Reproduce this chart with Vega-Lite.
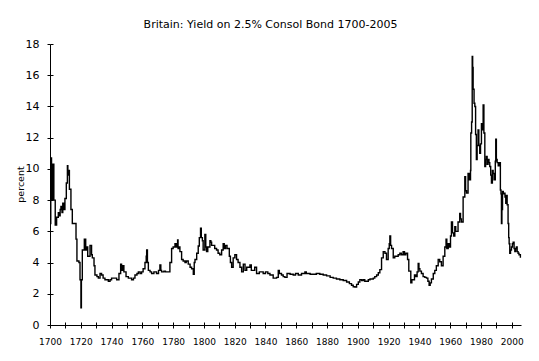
{
  "$schema": "https://vega.github.io/schema/vega-lite/v6.json",
  "width": 471,
  "height": 281,
  "autosize": {"type": "none"},
  "padding": {"left": 50, "top": 44, "right": 18, "bottom": 36},
  "background": "white",
  "title": {
    "text": "Britain: Yield on 2.5% Consol Bond 1700-2005",
    "font": "DejaVu Sans",
    "fontSize": 11,
    "fontWeight": "normal",
    "color": "#000000",
    "anchor": "middle",
    "baseline": "alphabetic",
    "offset": 17,
    "dx": -15,
    "dy": 18
  },
  "config": {
    "view": {"stroke": null},
    "axis": {"grid": false, "domainColor": "#000000", "tickColor": "#000000", "labelColor": "#000000", "titleColor": "#000000", "labelFont": "DejaVu Sans", "titleFont": "DejaVu Sans", "domainWidth": 1, "tickWidth": 1}
  },
  "data": {
    "values": [
      {"year": 1700.0, "yield": 6.5}, {"year": 1700.5, "yield": 10.7}, {"year": 1701.0, "yield": 8.0}, {"year": 1701.8, "yield": 10.3},
      {"year": 1702.5, "yield": 8.0}, {"year": 1703.4, "yield": 6.4}, {"year": 1704.3, "yield": 6.9}, {"year": 1705.4, "yield": 7.2},
      {"year": 1706.3, "yield": 7.0}, {"year": 1706.6, "yield": 7.4}, {"year": 1707.1, "yield": 7.6}, {"year": 1707.8, "yield": 7.2},
      {"year": 1708.3, "yield": 7.8}, {"year": 1708.8, "yield": 7.4}, {"year": 1709.7, "yield": 8.1}, {"year": 1710.6, "yield": 9.1},
      {"year": 1711.3, "yield": 10.2}, {"year": 1711.6, "yield": 9.6}, {"year": 1712.0, "yield": 9.9}, {"year": 1712.6, "yield": 8.7},
      {"year": 1713.6, "yield": 7.4}, {"year": 1714.5, "yield": 6.5}, {"year": 1716.2, "yield": 6.5}, {"year": 1716.9, "yield": 5.5},
      {"year": 1717.5, "yield": 4.1}, {"year": 1718.8, "yield": 4.0}, {"year": 1719.5, "yield": 2.9}, {"year": 1720.1, "yield": 1.1},
      {"year": 1720.4, "yield": 2.9}, {"year": 1721.0, "yield": 4.8}, {"year": 1722.3, "yield": 5.5}, {"year": 1723.2, "yield": 4.8},
      {"year": 1723.8, "yield": 5.0}, {"year": 1724.5, "yield": 4.4}, {"year": 1726.0, "yield": 5.1}, {"year": 1727.0, "yield": 4.5},
      {"year": 1727.5, "yield": 4.3}, {"year": 1728.6, "yield": 3.8}, {"year": 1729.2, "yield": 3.2}, {"year": 1730.5, "yield": 3.1},
      {"year": 1731.4, "yield": 3.0}, {"year": 1732.5, "yield": 3.3}, {"year": 1733.5, "yield": 3.2}, {"year": 1734.5, "yield": 3.0},
      {"year": 1735.7, "yield": 2.9}, {"year": 1737.9, "yield": 2.8}, {"year": 1739.0, "yield": 2.9}, {"year": 1740.0, "yield": 3.0},
      {"year": 1742.0, "yield": 3.0}, {"year": 1743.3, "yield": 2.9}, {"year": 1744.8, "yield": 3.3}, {"year": 1745.9, "yield": 3.9},
      {"year": 1746.5, "yield": 3.5}, {"year": 1747.2, "yield": 3.8}, {"year": 1748.0, "yield": 3.4}, {"year": 1749.4, "yield": 3.1},
      {"year": 1750.9, "yield": 3.0}, {"year": 1753.0, "yield": 2.9}, {"year": 1754.2, "yield": 3.0}, {"year": 1755.2, "yield": 3.2},
      {"year": 1756.5, "yield": 3.3}, {"year": 1757.4, "yield": 3.4}, {"year": 1758.5, "yield": 3.3}, {"year": 1759.5, "yield": 3.4},
      {"year": 1760.5, "yield": 3.6}, {"year": 1761.7, "yield": 4.0}, {"year": 1762.5, "yield": 4.4}, {"year": 1762.8, "yield": 4.8},
      {"year": 1763.3, "yield": 4.0}, {"year": 1763.9, "yield": 3.5}, {"year": 1765.0, "yield": 3.4}, {"year": 1766.0, "yield": 3.3},
      {"year": 1767.5, "yield": 3.4}, {"year": 1769.2, "yield": 3.3}, {"year": 1770.5, "yield": 3.5}, {"year": 1771.4, "yield": 3.85},
      {"year": 1772.0, "yield": 3.5}, {"year": 1772.5, "yield": 3.4}, {"year": 1774.0, "yield": 3.45}, {"year": 1775.0, "yield": 3.4},
      {"year": 1776.8, "yield": 3.4}, {"year": 1777.9, "yield": 4.0}, {"year": 1779.0, "yield": 4.9}, {"year": 1780.0, "yield": 5.0},
      {"year": 1781.2, "yield": 5.2}, {"year": 1782.0, "yield": 5.0}, {"year": 1782.9, "yield": 5.45}, {"year": 1783.2, "yield": 4.9},
      {"year": 1783.7, "yield": 5.0}, {"year": 1784.4, "yield": 4.7}, {"year": 1785.5, "yield": 4.2}, {"year": 1786.5, "yield": 4.1},
      {"year": 1787.7, "yield": 4.0}, {"year": 1788.5, "yield": 4.1}, {"year": 1789.8, "yield": 3.9}, {"year": 1791.0, "yield": 3.7},
      {"year": 1792.0, "yield": 3.6}, {"year": 1793.1, "yield": 3.25}, {"year": 1793.7, "yield": 4.0}, {"year": 1794.2, "yield": 4.2},
      {"year": 1795.3, "yield": 4.6}, {"year": 1796.3, "yield": 5.06}, {"year": 1797.0, "yield": 5.6}, {"year": 1797.8, "yield": 6.2},
      {"year": 1798.3, "yield": 5.6}, {"year": 1799.0, "yield": 5.4}, {"year": 1799.5, "yield": 4.8}, {"year": 1800.0, "yield": 4.8},
      {"year": 1800.6, "yield": 5.8}, {"year": 1801.2, "yield": 5.0}, {"year": 1801.7, "yield": 4.7}, {"year": 1802.5, "yield": 5.0},
      {"year": 1803.9, "yield": 5.4}, {"year": 1804.5, "yield": 5.3}, {"year": 1805.0, "yield": 5.1}, {"year": 1806.0, "yield": 5.1},
      {"year": 1807.0, "yield": 4.9}, {"year": 1808.2, "yield": 4.8}, {"year": 1809.2, "yield": 4.6}, {"year": 1810.3, "yield": 4.5},
      {"year": 1811.5, "yield": 4.8}, {"year": 1812.5, "yield": 5.2}, {"year": 1813.2, "yield": 4.9}, {"year": 1814.0, "yield": 5.1},
      {"year": 1815.0, "yield": 4.9}, {"year": 1815.7, "yield": 4.9}, {"year": 1816.5, "yield": 4.4}, {"year": 1817.2, "yield": 4.0},
      {"year": 1818.0, "yield": 3.7}, {"year": 1819.0, "yield": 4.3}, {"year": 1820.1, "yield": 4.5}, {"year": 1821.2, "yield": 4.2},
      {"year": 1822.2, "yield": 4.0}, {"year": 1823.4, "yield": 3.7}, {"year": 1824.5, "yield": 3.4}, {"year": 1825.6, "yield": 3.9},
      {"year": 1826.7, "yield": 3.5}, {"year": 1827.8, "yield": 3.7}, {"year": 1829.9, "yield": 3.85}, {"year": 1830.8, "yield": 3.5},
      {"year": 1832.1, "yield": 3.5}, {"year": 1833.0, "yield": 3.7}, {"year": 1834.2, "yield": 3.3}, {"year": 1836.0, "yield": 3.4},
      {"year": 1838.5, "yield": 3.3}, {"year": 1840.0, "yield": 3.4}, {"year": 1841.5, "yield": 3.3}, {"year": 1842.9, "yield": 3.2},
      {"year": 1845.0, "yield": 3.0}, {"year": 1847.2, "yield": 3.05}, {"year": 1848.3, "yield": 3.5}, {"year": 1849.0, "yield": 3.3},
      {"year": 1850.4, "yield": 3.2}, {"year": 1851.5, "yield": 3.1}, {"year": 1852.6, "yield": 3.05}, {"year": 1854.0, "yield": 3.3},
      {"year": 1854.8, "yield": 3.3}, {"year": 1856.0, "yield": 3.25}, {"year": 1858.0, "yield": 3.2}, {"year": 1859.5, "yield": 3.3},
      {"year": 1861.3, "yield": 3.2}, {"year": 1863.4, "yield": 3.3}, {"year": 1865.6, "yield": 3.4}, {"year": 1866.5, "yield": 3.3},
      {"year": 1867.7, "yield": 3.3}, {"year": 1869.0, "yield": 3.25}, {"year": 1871.0, "yield": 3.25}, {"year": 1873.0, "yield": 3.3},
      {"year": 1875.3, "yield": 3.25}, {"year": 1877.5, "yield": 3.2}, {"year": 1879.7, "yield": 3.15}, {"year": 1882.0, "yield": 3.05},
      {"year": 1884.0, "yield": 3.0}, {"year": 1886.1, "yield": 2.95}, {"year": 1888.3, "yield": 2.9}, {"year": 1890.5, "yield": 2.85},
      {"year": 1892.7, "yield": 2.75}, {"year": 1894.5, "yield": 2.65}, {"year": 1895.9, "yield": 2.55}, {"year": 1897.0, "yield": 2.45},
      {"year": 1898.1, "yield": 2.43}, {"year": 1899.2, "yield": 2.6}, {"year": 1900.3, "yield": 2.75}, {"year": 1901.3, "yield": 2.9},
      {"year": 1902.5, "yield": 2.85}, {"year": 1903.5, "yield": 2.9}, {"year": 1904.5, "yield": 2.8}, {"year": 1905.7, "yield": 2.8},
      {"year": 1906.8, "yield": 2.9}, {"year": 1907.9, "yield": 2.95}, {"year": 1910.0, "yield": 3.0}, {"year": 1911.0, "yield": 3.1},
      {"year": 1912.2, "yield": 3.2}, {"year": 1913.3, "yield": 3.35}, {"year": 1914.3, "yield": 3.55}, {"year": 1915.4, "yield": 4.3},
      {"year": 1916.5, "yield": 4.7}, {"year": 1917.6, "yield": 4.6}, {"year": 1918.6, "yield": 4.2}, {"year": 1919.7, "yield": 4.9},
      {"year": 1920.4, "yield": 5.2}, {"year": 1920.8, "yield": 5.7}, {"year": 1921.3, "yield": 5.1}, {"year": 1921.9, "yield": 4.9},
      {"year": 1923.0, "yield": 4.3}, {"year": 1924.0, "yield": 4.4}, {"year": 1925.1, "yield": 4.4}, {"year": 1926.2, "yield": 4.5},
      {"year": 1927.3, "yield": 4.6}, {"year": 1928.3, "yield": 4.5}, {"year": 1929.4, "yield": 4.7}, {"year": 1930.3, "yield": 4.5},
      {"year": 1931.2, "yield": 4.6}, {"year": 1932.3, "yield": 4.2}, {"year": 1933.1, "yield": 3.45}, {"year": 1934.4, "yield": 2.7},
      {"year": 1935.1, "yield": 2.9}, {"year": 1935.9, "yield": 2.9}, {"year": 1936.8, "yield": 3.2}, {"year": 1937.7, "yield": 3.1},
      {"year": 1938.5, "yield": 3.4}, {"year": 1939.2, "yield": 3.95}, {"year": 1939.7, "yield": 3.6}, {"year": 1940.3, "yield": 3.45},
      {"year": 1941.3, "yield": 3.3}, {"year": 1942.4, "yield": 3.1}, {"year": 1943.5, "yield": 3.05}, {"year": 1944.6, "yield": 3.0},
      {"year": 1945.5, "yield": 2.8}, {"year": 1946.3, "yield": 2.55}, {"year": 1947.0, "yield": 2.7}, {"year": 1947.8, "yield": 2.95},
      {"year": 1949.0, "yield": 3.3}, {"year": 1950.0, "yield": 3.5}, {"year": 1951.0, "yield": 3.8}, {"year": 1952.2, "yield": 4.2},
      {"year": 1953.2, "yield": 4.05}, {"year": 1954.3, "yield": 3.8}, {"year": 1955.4, "yield": 4.4}, {"year": 1956.5, "yield": 5.0},
      {"year": 1957.3, "yield": 5.5}, {"year": 1957.8, "yield": 4.9}, {"year": 1958.7, "yield": 5.2}, {"year": 1959.5, "yield": 5.0},
      {"year": 1960.2, "yield": 5.7}, {"year": 1960.8, "yield": 6.6}, {"year": 1961.5, "yield": 5.9}, {"year": 1962.3, "yield": 5.7},
      {"year": 1963.0, "yield": 6.3}, {"year": 1963.6, "yield": 6.0}, {"year": 1965.1, "yield": 6.6}, {"year": 1966.2, "yield": 7.15},
      {"year": 1966.7, "yield": 6.8}, {"year": 1967.3, "yield": 6.6}, {"year": 1968.4, "yield": 8.2}, {"year": 1969.5, "yield": 9.5},
      {"year": 1970.0, "yield": 8.6}, {"year": 1970.6, "yield": 8.45}, {"year": 1971.6, "yield": 9.7}, {"year": 1972.5, "yield": 9.3},
      {"year": 1973.2, "yield": 9.9}, {"year": 1973.4, "yield": 12.3}, {"year": 1973.9, "yield": 13.0}, {"year": 1974.3, "yield": 17.2},
      {"year": 1974.6, "yield": 16.5}, {"year": 1974.9, "yield": 15.1}, {"year": 1975.5, "yield": 14.2}, {"year": 1976.0, "yield": 14.0},
      {"year": 1976.5, "yield": 12.2}, {"year": 1977.0, "yield": 10.6}, {"year": 1977.5, "yield": 11.5}, {"year": 1978.1, "yield": 12.5},
      {"year": 1978.6, "yield": 11.5}, {"year": 1979.2, "yield": 11.0}, {"year": 1979.7, "yield": 11.6}, {"year": 1980.3, "yield": 12.9},
      {"year": 1980.8, "yield": 12.5}, {"year": 1981.4, "yield": 14.1}, {"year": 1981.9, "yield": 12.3}, {"year": 1982.5, "yield": 10.15},
      {"year": 1983.0, "yield": 10.6}, {"year": 1983.5, "yield": 10.8}, {"year": 1984.0, "yield": 10.3}, {"year": 1984.6, "yield": 10.6},
      {"year": 1985.2, "yield": 10.4}, {"year": 1985.7, "yield": 10.15}, {"year": 1986.3, "yield": 9.6}, {"year": 1986.8, "yield": 9.1},
      {"year": 1987.4, "yield": 9.9}, {"year": 1987.9, "yield": 9.7}, {"year": 1988.5, "yield": 9.3}, {"year": 1989.3, "yield": 10.5},
      {"year": 1989.6, "yield": 11.9}, {"year": 1990.0, "yield": 10.6}, {"year": 1990.5, "yield": 10.4}, {"year": 1991.2, "yield": 10.2},
      {"year": 1991.8, "yield": 10.4}, {"year": 1992.6, "yield": 8.65}, {"year": 1993.0, "yield": 8.4}, {"year": 1993.3, "yield": 6.5},
      {"year": 1993.6, "yield": 7.4}, {"year": 1994.0, "yield": 8.55}, {"year": 1994.5, "yield": 8.4}, {"year": 1995.0, "yield": 8.45},
      {"year": 1995.6, "yield": 8.2}, {"year": 1996.1, "yield": 7.8}, {"year": 1996.5, "yield": 8.3}, {"year": 1997.0, "yield": 7.7},
      {"year": 1997.6, "yield": 6.5}, {"year": 1998.0, "yield": 5.6}, {"year": 1998.3, "yield": 5.2}, {"year": 1998.7, "yield": 4.6},
      {"year": 1999.2, "yield": 4.8}, {"year": 1999.8, "yield": 5.0}, {"year": 2000.4, "yield": 5.2}, {"year": 2000.9, "yield": 5.3},
      {"year": 2001.5, "yield": 4.9}, {"year": 2002.0, "yield": 4.7}, {"year": 2002.5, "yield": 4.9}, {"year": 2003.0, "yield": 5.0},
      {"year": 2003.5, "yield": 4.7}, {"year": 2004.1, "yield": 4.6}, {"year": 2004.7, "yield": 4.5}, {"year": 2005.6, "yield": 4.3}
    ]
  },
  "layer": [
    {
      "mark": {"type": "line", "color": "#000000", "strokeWidth": 1.4, "interpolate": "step-after"},
      "encoding": {
        "x": {
          "field": "year", "type": "quantitative",
          "scale": {"domain": [1700, 2006], "nice": false, "zero": false},
          "axis": {
            "orient": "bottom", "title": null,
            "values": [1700,1710,1720,1730,1740,1750,1760,1770,1780,1790,1800,1810,1820,1830,1840,1850,1860,1870,1880,1890,1900,1910,1920,1930,1940,1950,1960,1970,1980,1990,2000],
            "format": "d",
            "labelExpr": "datum.value % 20 === 0 ? datum.label : ''",
            "labelOverlap": false, "labelFlush": false,
            "labelFontSize": 9, "tickSize": 3, "labelPadding": 9
          }
        },
        "y": {
          "field": "yield", "type": "quantitative",
          "scale": {"domain": [0, 18], "nice": false},
          "axis": {
            "orient": "left",
            "title": "percent", "titleFontSize": 9.5, "titleFontWeight": "normal",
            "titleAngle": -90, "titleBaseline": "middle", "titleX": -30, "titleY": 140,
            "values": [0,2,4,6,8,10,12,14,16,18],
            "labelFontSize": 11, "tickSize": 3, "labelPadding": 8
          }
        }
      }
    },
    {
      "mark": {"type": "line", "opacity": 0},
      "encoding": {
        "x": {
          "field": "year", "type": "quantitative",
          "axis": {
            "orient": "bottom", "title": null, "labels": false, "domain": false,
            "values": [1700,1710,1720,1730,1740,1750,1760,1770,1780,1790,1800,1810,1820,1830,1840,1850,1860,1870,1880,1890,1900,1910,1920,1930,1940,1950,1960,1970,1980,1990,2000],
            "tickSize": -3
          }
        },
        "y": {
          "field": "yield", "type": "quantitative",
          "axis": {
            "orient": "left", "title": null, "labels": false, "domain": false,
            "values": [0,2,4,6,8,10,12,14,16,18],
            "tickSize": -3
          }
        }
      }
    }
  ],
  "resolve": {"axis": {"x": "independent", "y": "independent"}}
}
